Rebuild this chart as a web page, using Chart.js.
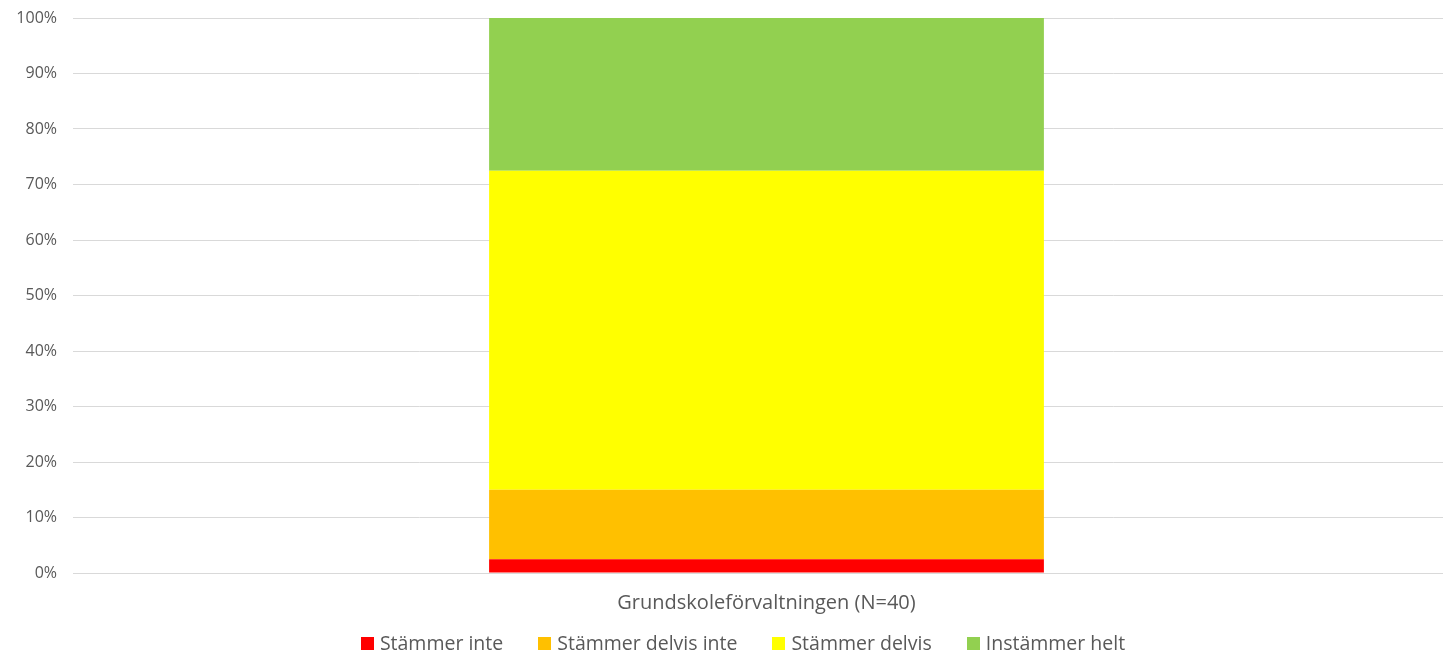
<!DOCTYPE html>
<html>
<head>
<meta charset="utf-8">
<script src="https://cdn.jsdelivr.net/npm/chart.js@4/dist/chart.umd.min.js"></script>
<style>
  html, body { margin: 0; padding: 0; background: #fff; overflow: hidden; }
  #wrap { position: relative; width: 1443px; height: 655px; overflow: hidden; }
  #chart { position: absolute; left: 0; top: 0; }
  #legend {
    position: absolute; left: 43px; top: 631px; width: 1400px;
    display: flex; justify-content: center; gap: 35px;
    font-family: "Open Sans", sans-serif; font-size: 19.5px; line-height: 24px; color: #595959;
  }
  #legend .item { display: flex; align-items: center; white-space: nowrap; }
  #legend .box { width: 13px; height: 13px; margin-right: 6px; }
</style>
</head>
<body>
<div id="wrap">
  <canvas id="chart" width="1460" height="655"></canvas>
  <div id="legend"></div>
</div>
<script>
const categories = ['Grundskoleförvaltningen (N=40)'];
const seriesNames = ['Stämmer inte', 'Stämmer delvis inte', 'Stämmer delvis', 'Instämmer helt'];
const stammerInte = [2.5];
const stammerDelvisInte = [12.5];
const stammerDelvis = [57.5];
const instammerHelt = [27.5];
const seriesColors = ['#ff0000', '#ffc000', '#ffff00', '#92d050'];

const seriesValues = [stammerInte, stammerDelvisInte, stammerDelvis, instammerHelt];

document.addEventListener('DOMContentLoaded', function() {
    const ctx = document.getElementById('chart');
    const chart = new Chart(ctx, {
        type: 'bar',
        data: {
            labels: categories,
            datasets: seriesNames.map(function(name, i) {
                return {
                    label: name,
                    data: seriesValues[i],
                    backgroundColor: seriesColors[i],
                    borderWidth: 0,
                    barPercentage: 0.4,
                    categoryPercentage: 1
                };
            })
        },
        options: {
            responsive: false,
            animation: false,
            layout: { padding: { top: 18, right: 0, left: 0, bottom: 22 } },
            plugins: {
                tooltip: { enabled: false },
                legend: { display: false }
            },
            scales: {
                x: {
                    stacked: true,
                    grid: { display: false, drawTicks: false },
                    border: { color: '#d9d9d9', width: 1 },
                    ticks: {
                        padding: 18,
                        color: '#595959',
                        font: { family: '"Open Sans", sans-serif', size: 20 }
                    }
                },
                y: {
                    stacked: true,
                    min: 0,
                    max: 100,
                    afterFit: function(scale) {
                        scale.width = 73;
                        scale.paddingTop = 0;
                    },
                    grid: { color: '#d9d9d9', drawTicks: false },
                    border: { display: false },
                    ticks: {
                        stepSize: 10,
                        padding: 16,
                        color: '#595959',
                        font: { family: '"Open Sans", sans-serif', size: 16 },
                        callback: function(v) { return v + '%'; }
                    }
                }
            }
        }
    });

    // Legend som HTML, byggd från datasets
    const legend = document.getElementById('legend');
    chart.data.datasets.forEach(function(ds) {
        const item = document.createElement('span');
        item.className = 'item';
        const box = document.createElement('span');
        box.className = 'box';
        box.style.background = ds.backgroundColor;
        item.appendChild(box);
        item.appendChild(document.createTextNode(ds.label));
        legend.appendChild(item);
    });
});
</script>
</body>
</html>
